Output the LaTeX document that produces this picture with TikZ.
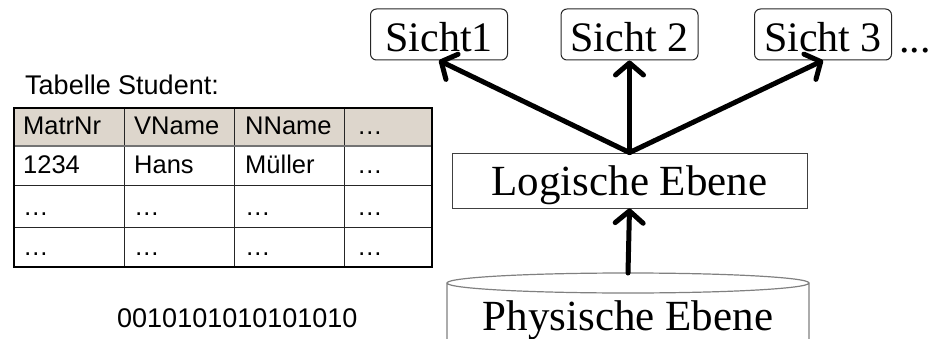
\documentclass[tikz,border=0pt]{standalone}
\usepackage{fontspec}
\setmainfont{Liberation Serif}
\newfontfamily\tabfont{Liberation Sans}
\usetikzlibrary{arrows.meta}

\definecolor{headbeige}{RGB}{221,214,204}
\def\studenttable{(14,108) rectangle (432,267)}
\def\bigfont{\fontsize{42}{48}\selectfont}

\tikzset{
  sicht/.style={draw=black!85, line width=1pt, rounded corners=6pt, inner sep=0pt, minimum width=137pt,
    text height=43pt, text depth=8pt, font=\bigfont},
  ebene/.style={inner sep=0pt, text height=42pt, text depth=13pt, font=\fontsize{43}{50}\selectfont},
  cell/.style={anchor=base west, inner sep=0pt, font=\tabfont\fontsize{25.5}{30}\selectfont},
  bigarrow/.style={line width=5pt, line cap=round,
    -{Straight Barb[length=12pt, width=28pt, round]}}
}

\begin{document}
\begin{tikzpicture}[x=1pt, y=-1pt]
  \useasboundingbox (0,0) rectangle (944,339);

  % table
  \node[cell, font=\tabfont\fontsize{27}{32}\selectfont] (tabtitle) at (25,95) {Tabelle Student:};
  \fill[headbeige] (14,108) rectangle (432,146);
  \draw[black!85, line width=0.8pt] (124,108) -- (124,267) (234,108) -- (234,267) (344,108) -- (344,267)
    (14,185) -- (432,185) (14,227) -- (432,227);
  \draw[black!55, line width=2pt] (14,146) -- (432,146);
  \draw[line width=1.4pt] \studenttable;
  \node[cell] (h1) at (23,135) {MatrNr};
  \node[cell] (h2) at (134,135) {VName};
  \node[cell] (h3) at (245,135) {NName};
  \node[cell] (h4) at (357,135) {…};
  \node[cell] (r1) at (23,174) {1234};
  \node[cell] (r2) at (134,174) {Hans};
  \node[cell] (r3) at (245,174) {Müller};
  \node[cell] (r4) at (357,174) {…};
  \foreach \x/\c in {23/1,134/2,245/3,357/4}
    \foreach \y/\r in {215/a,255/b}
      \node[cell] (d\r\c) at (\x,\y) {…};
  \node[cell, font=\tabfont\fontsize{27}{32}\selectfont] (bits) at (117,327) {0010101010101010};

  % views
  \node[sicht] (sicht1) at (439,34.5) {Sicht1};
  \node[sicht] (sicht2) at (629.5,34.5) {Sicht 2};
  \node[sicht] (sicht3) at (823,34.5) {Sicht 3};
  \node[anchor=base west, inner sep=0pt, font=\bigfont] (mehr) at (899,53) {...};

  \node[ebene, draw=black!75, line width=0.9pt, minimum width=355pt] (logisch) at (629.5,180.5) {Logische Ebene};

  % cylinder
  \draw[black!50, line width=1.2pt] (447,283) -- (447,350) (809,283) -- (809,350)
    (628,283) ellipse [x radius=181pt, y radius=10pt];
  \coordinate (dbtop) at (628,273);
  \node[ebene, anchor=base] (physisch) at (628,330) {Physische Ebene};

  \draw[bigarrow] (dbtop) -- (logisch.south);
  \draw[bigarrow] (logisch.north) -- (sicht1.south);
  \draw[bigarrow] (logisch.north) -- (sicht2.south);
  \draw[bigarrow] (logisch.north) -- (sicht3.south);
\end{tikzpicture}
\end{document}
